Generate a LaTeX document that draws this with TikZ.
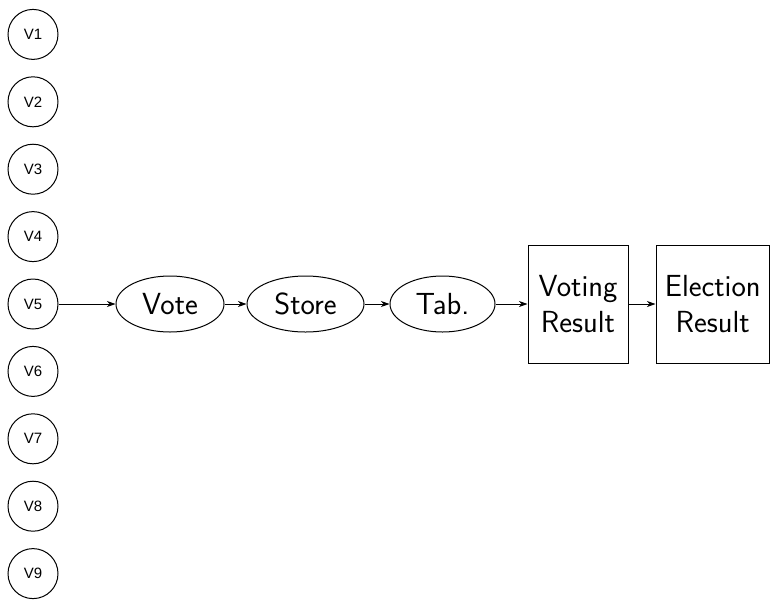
\documentclass[tikz,border=0pt]{standalone}
\usepackage{fontspec}
\newfontfamily\voterfont{Liberation Sans}
\usetikzlibrary{arrows.meta,shapes.geometric}
\begin{document}
\begin{tikzpicture}[x=1pt,y=-1pt,
  voter/.style={circle,draw,line width=1pt,minimum size=50pt,inner sep=0pt,
    font=\voterfont\fontsize{15}{18}\selectfont},
  stage/.style={ellipse,draw,line width=1pt,minimum height=56pt,inner sep=0pt,
    font=\sffamily\fontsize{30.5}{36}\selectfont},
  outcome/.style={rectangle,draw,line width=1pt,minimum height=118pt,inner sep=0pt,
    align=center,font=\sffamily\fontsize{30.5}{36}\selectfont},
  flow/.style={-{Stealth[length=8.5pt,width=6pt,inset=2.5pt]},line width=1pt}]
\useasboundingbox (0,0) rectangle (770,600);

% voters
\foreach \i in {1,...,9}
  \node[voter] (v\i) at (33,{304+67.4*(\i-5)}) {V\i};

% processing chain
\node[stage,minimum width=108pt] (vote)  at (170,304)   {Vote};
\node[stage,minimum width=117pt] (store) at (305.5,304) {Store};
\node[stage,minimum width=105pt] (tab)   at (442.5,304) {Tab.};
\node[outcome,minimum width=100pt]   (vres) at (578,304)    {Voting\\Result};
\node[outcome,minimum width=113.5pt] (eres) at (712.75,304) {Election\\Result};

\draw[flow] (v5) -- (vote);
\draw[flow] (vote) -- (store);
\draw[flow] (store) -- (tab);
\draw[flow] (tab) -- (vres);
\draw[flow] (vres) -- (eres);
\end{tikzpicture}
\end{document}
